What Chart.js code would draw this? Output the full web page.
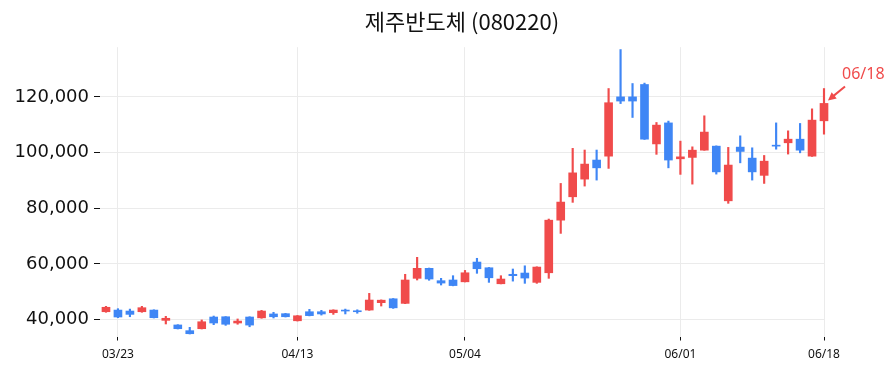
<!DOCTYPE html>
<html>
<head>
<meta charset="utf-8">
<script src="https://cdn.jsdelivr.net/npm/chart.js@4"></script>
<style>
  html, body { margin: 0; padding: 0; background: #fff; }
  #wrap { width: 895px; height: 373px; }
</style>
</head>
<body>
<div id="wrap"><canvas id="chart" width="895" height="373"></canvas></div>
<script>
// trading days shown on the chart
var dates = [
    '03/22', '03/23', '03/24', '03/25', '03/26', '03/29', '03/30', '03/31', '04/01', '04/02',
    '04/05', '04/06', '04/07', '04/08', '04/09', '04/12', '04/13', '04/14', '04/15', '04/16',
    '04/19', '04/20', '04/21', '04/22', '04/23', '04/26', '04/27', '04/28', '04/29', '05/03',
    '05/04', '05/06', '05/07', '05/10', '05/11', '05/12', '05/13', '05/14', '05/17', '05/18',
    '05/20', '05/21', '05/24', '05/25', '05/26', '05/27', '05/28', '05/31', '06/01', '06/02',
    '06/03', '06/07', '06/08', '06/09', '06/10', '06/11', '06/14', '06/15', '06/16', '06/17',
    '06/18'
];

var opens = [
    42800, 43400, 43050, 42800, 43400, 39700, 38050, 36000, 36700, 40900,
    41000, 38750, 40900, 40600, 42000, 42100, 39550, 42800, 42800, 42450,
    43400, 43150, 43400, 46050, 47450, 45800, 54800, 58400, 53950, 54200,
    53550, 60650, 58600, 52850, 56250, 56700, 53350, 56800, 75700, 84100,
    90450, 97300, 98700, 120000, 120000, 124450, 103100, 110650, 97750, 98250,
    100850, 102300, 82650, 101950, 98000, 91800, 102650, 103500, 104800, 98700,
    111400
];
var highs = [
    44750, 43900, 43750, 44750, 43500, 41150, 38150, 37200, 39850, 41250,
    41050, 40200, 41000, 43300, 42600, 42200, 41450, 43650, 43300, 43500,
    43750, 43500, 49400, 47050, 47550, 56250, 62350, 58500, 54800, 55750,
    57650, 62000, 58700, 55750, 58150, 59300, 58950, 76100, 88900, 101500,
    100900, 100900, 123000, 137000, 124800, 124950, 110800, 111300, 104100, 102050,
    113200, 102400, 101850, 106000, 101700, 98950, 110650, 107800, 110450, 115700,
    123000
];
var lows = [
    42600, 40650, 41000, 42600, 40550, 38400, 36600, 34800, 36600, 38150,
    37900, 38300, 37400, 40450, 40550, 40900, 39450, 41300, 41600, 41850,
    42000, 42250, 43300, 44850, 44000, 45700, 54200, 54100, 52400, 52100,
    53500, 56600, 53350, 52800, 53800, 53000, 53000, 54800, 70950, 82100,
    87950, 90100, 94300, 117600, 112600, 104700, 99350, 94500, 92150, 88650,
    100800, 92250, 81750, 96300, 90100, 88900, 101200, 99450, 99900, 98600,
    106600
];
var closes = [
    44400, 40900, 41850, 44250, 40650, 40450, 36700, 34900, 39200, 38750,
    38300, 39450, 38000, 43050, 41000, 41000, 41350, 41400, 42000, 43400,
    43050, 42800, 47000, 46950, 44200, 54200, 58400, 54550, 53100, 52200,
    56800, 58250, 55000, 54550, 55750, 54900, 58850, 75700, 82200, 92700,
    95850, 94500, 117900, 118500, 118500, 104800, 109850, 97300, 98450, 100850,
    107350, 93050, 95500, 100400, 93050, 96900, 102300, 104800, 100850, 111650,
    117650
];

var yTicks = [40000, 60000, 80000, 100000, 120000];
var xTickIdx = [1, 16, 30, 48, 60];

var UP = '#f04b4b';
var DOWN = '#3f86f5';

var colors = closes.map(function (c, i) { return c >= opens[i] ? UP : DOWN; });
var bodies = opens.map(function (o, i) { return { x: i, y: [o, closes[i]] }; });
var wicks  = lows.map(function (l, i) { return { x: i, y: [l, highs[i]] }; });

// arrow + date label pointing at the last candle
var lastMarker = {
    id: 'lastMarker',
    afterDatasetsDraw: function (chart) {
        var n = closes.length - 1;
        var xs = chart.scales.x, ys = chart.scales.y;
        var tx = xs.getPixelForValue(n) + 4;
        var ty = ys.getPixelForValue(closes[n]) - 3;
        var ctx = chart.ctx;
        ctx.save();
        ctx.strokeStyle = UP;
        ctx.fillStyle = UP;
        ctx.lineWidth = 2;
        var sx = tx + 17, sy = ty - 14;
        var ang = Math.atan2(ty - sy, tx - sx);
        ctx.beginPath();
        ctx.moveTo(sx, sy);
        ctx.lineTo(tx - 4 * Math.cos(ang), ty - 4 * Math.sin(ang));
        ctx.stroke();
        ctx.beginPath();
        ctx.moveTo(tx, ty);
        ctx.lineTo(tx - 8 * Math.cos(ang) + 4 * Math.sin(ang), ty - 8 * Math.sin(ang) - 4 * Math.cos(ang));
        ctx.lineTo(tx - 8 * Math.cos(ang) - 4 * Math.sin(ang), ty - 8 * Math.sin(ang) + 4 * Math.cos(ang));
        ctx.closePath();
        ctx.fill();
        ctx.font = '16px "Noto Sans"';
        ctx.textAlign = 'left';
        ctx.textBaseline = 'alphabetic';
        ctx.fillText(dates[n], tx + 14, ty - 21);
        ctx.restore();
    }
};

new Chart(document.getElementById('chart'), {
    type: 'bar',
    data: {
        datasets: [
            {
                label: 'body',
                data: bodies,
                backgroundColor: colors,
                borderWidth: 0,
                barThickness: 8,
                grouped: false,
                clip: false,
                order: 1,
            },
            {
                label: 'wick',
                data: wicks,
                backgroundColor: colors,
                borderWidth: 0,
                barThickness: 1.5,
                grouped: false,
                clip: false,
                order: 2,
            },
        ],
    },
    options: {
        responsive: false,
        animation: false,
        layout: { padding: { left: 0, right: 71, top: 0, bottom: 0 } },
        plugins: {
            legend: { display: false },
            tooltip: { enabled: false },
            title: {
                display: true,
                text: '제주반도체 (080220)',
                color: '#111',
                fullSize: false,
                font: { family: '"Noto Sans CJK KR"', size: 22, weight: 'normal', lineHeight: 1.1 },
                padding: { top: 10, bottom: 13 },
            },
        },
        scales: {
            x: {
                type: 'linear',
                offset: false,
                min: -0.5,
                max: dates.length - 1,
                afterBuildTicks: function (s) {
                    s.ticks = xTickIdx.map(function (v) { return { value: v }; });
                },
                afterFit: function (s) { s.height = 36.5; },
                ticks: {
                    autoSkip: false,
                    maxRotation: 0,
                    padding: 7,
                    color: '#111',
                    font: { family: '"Noto Sans"', size: 12 },
                    callback: function (v) { return dates[v]; },
                },
                grid: { offset: false, color: '#ebebeb', lineWidth: 1, tickColor: '#111', tickLength: 4 },
                border: { display: false },
            },
            y: {
                min: 33900,
                max: 137850,
                afterBuildTicks: function (s) {
                    s.ticks = yTicks.map(function (v) { return { value: v }; });
                },
                afterFit: function (s) { s.width = 100; },
                ticks: {
                    padding: 5,
                    color: '#111',
                    font: { family: '"DejaVu Sans"', size: 18 },
                    callback: function (v) { return v.toLocaleString('en-US'); },
                },
                grid: { color: '#ebebeb', lineWidth: 1, tickColor: '#111', tickLength: 6 },
                border: { display: false },
            },
        },
    },
    plugins: [lastMarker],
});
</script>
</body>
</html>
